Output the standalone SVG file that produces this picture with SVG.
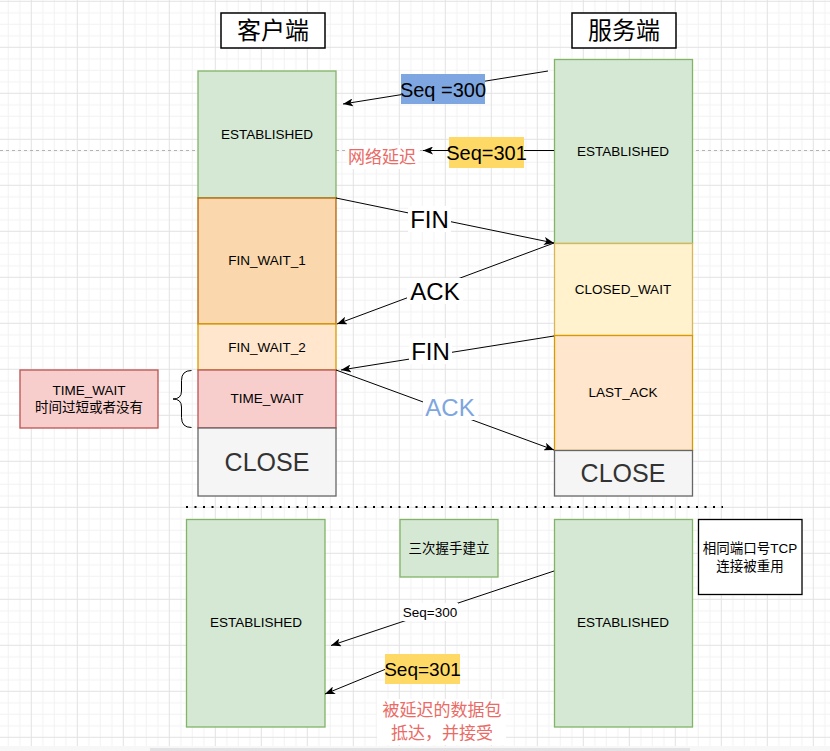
<svg xmlns="http://www.w3.org/2000/svg" width="830" height="751" viewBox="0 0 830 751">
<style>
.t{font-family:"Liberation Sans","Noto Sans CJK SC",sans-serif;text-anchor:middle;dominant-baseline:central;fill:#000}
.s13{font-size:13.5px}
.big{font-size:24px}
.close{font-size:25px;fill:#333}
.edge{fill:none;stroke:#000;stroke-width:1}
.g{fill:#d5e8d4;stroke:#82b366;stroke-width:1.3}
.o1{fill:#fad7ac;stroke:#b46504;stroke-width:1.3}
.o2{fill:#ffe6cc;stroke:#d79b00;stroke-width:1.3}
.r{fill:#f8cecc;stroke:#b85450;stroke-width:1.3}
.gr{fill:#f5f5f5;stroke:#666;stroke-width:1.3}
.y{fill:#fff2cc;stroke:#d6b656;stroke-width:1.3}
.red{fill:#ea6b66}
</style>
<defs>
<pattern id="grid" patternUnits="userSpaceOnUse" x="30.8" y="0.8" width="46" height="46">
<path d="M12 0V46M23.5 0V46M35 0V46M0 12H46M0 23.5H46M0 35H46" stroke="#f2f2f2" stroke-width="1" fill="none"/>
<path d="M0.5 0V46M0 0.5H46" stroke="#e2e2e2" stroke-width="1" fill="none"/>
</pattern>
<marker id="arr" viewBox="0 0 10 8" refX="10" refY="4" markerWidth="10" markerHeight="8" markerUnits="userSpaceOnUse" orient="auto">
<path d="M0,0 L10,4 L0,8 L2.5,4 Z" fill="#000"/>
</marker>
</defs>
<rect width="830" height="751" fill="#fff"/>
<rect width="830" height="751" fill="url(#grid)"/>
<line x1="0" y1="150.5" x2="830" y2="150.5" stroke="#b3b3b3" stroke-dasharray="3 3"/>
<rect x="0" y="746" width="830" height="5" fill="#f7f7f8"/>
<rect x="150" y="748" width="540" height="3" fill="#e2e2e4"/>

<g id="title-client"><rect x="221" y="13" width="104" height="35" fill="#fff" stroke="#000" stroke-width="1.5"/><text class="t" x="273" y="30.5" font-size="24">客户端</text></g>
<g id="title-server"><rect x="572" y="13" width="104" height="35" fill="#fff" stroke="#000" stroke-width="1.5"/><text class="t" x="624" y="30.5" font-size="24">服务端</text></g>

<g id="c-established"><rect class="g" x="198" y="71" width="138" height="127"/><text class="t s13" x="267" y="134">ESTABLISHED</text></g>
<g id="c-finwait1"><rect class="o1" x="198" y="198" width="138" height="126"/><text class="t s13" x="267" y="260">FIN_WAIT_1</text></g>
<g id="c-finwait2"><rect class="o2" x="198" y="324" width="138" height="46"/><text class="t s13" x="267" y="347">FIN_WAIT_2</text></g>
<g id="c-timewait"><rect class="r" x="198" y="370" width="138" height="58"/><text class="t s13" x="267" y="398">TIME_WAIT</text></g>
<g id="c-close"><rect class="gr" x="198" y="428" width="138" height="68"/><text class="t close" x="267" y="462">CLOSE</text></g>

<g id="s-established"><rect class="g" x="554.5" y="59.5" width="138" height="184"/><text class="t s13" x="623" y="151">ESTABLISHED</text></g>
<g id="s-closedwait"><rect class="y" x="554.5" y="243.5" width="138" height="92"/><text class="t s13" x="623" y="289">CLOSED_WAIT</text></g>
<g id="s-lastack"><rect class="o2" x="554.5" y="335.5" width="138" height="115"/><text class="t s13" x="623" y="392">LAST_ACK</text></g>
<g id="s-close"><rect class="gr" x="554.5" y="450.5" width="138" height="45.5"/><text class="t close" x="623" y="473">CLOSE</text></g>

<g id="note-timewait"><rect class="r" x="20" y="370" width="138" height="58"/><text class="t s13" x="89" y="390">TIME_WAIT</text><text class="t s13" x="89" y="407">时间过短或者没有</text></g>
<g id="brace"><path d="M191.5,370.5 Q181.5,370.5 181.5,380.5 L181.5,391 Q181.5,399 173,399 Q181.5,399 181.5,407 L181.5,417.5 Q181.5,427.5 191.5,427.5" fill="none" stroke="#000" stroke-width="1"/></g>

<line x1="186" y1="507" x2="723" y2="507" stroke="#000" stroke-width="2" stroke-dasharray="2 6.5"/>

<g id="b-client"><rect class="g" x="186.5" y="519.5" width="138.5" height="207.5"/><text class="t s13" x="256" y="622">ESTABLISHED</text></g>
<g id="b-handshake"><rect class="g" x="400" y="519.5" width="98" height="57.5"/><text class="t s13" x="449" y="548">三次握手建立</text></g>
<g id="b-server"><rect class="g" x="554.5" y="519.5" width="138" height="207.5"/><text class="t s13" x="623" y="622">ESTABLISHED</text></g>
<g id="b-note"><rect x="698.5" y="519.5" width="103.5" height="75" fill="#fff" stroke="#000" stroke-width="1.3"/><text class="t s13" x="750" y="548">相同端口号TCP</text><text class="t s13" x="750" y="566">连接被重用</text></g>

<g id="connectors">
<line class="edge" x1="548" y1="71" x2="343" y2="104" marker-end="url(#arr)"/>
<rect x="401" y="74" width="84" height="30" fill="#7ea6e0"/>
<text class="t" x="443" y="89.5" font-size="20">Seq =300</text>

<line class="edge" x1="554" y1="150.5" x2="423" y2="150.5" marker-end="url(#arr)"/>
<rect x="449" y="137" width="75" height="31" fill="#ffd966"/>
<text class="t" x="486.5" y="153" font-size="20">Seq=301</text>
<rect x="347" y="145" width="71" height="24" fill="#fff"/>
<text class="t red" x="382" y="157" font-size="17">网络延迟</text>

<line class="edge" x1="336" y1="198" x2="554" y2="243" marker-end="url(#arr)"/>
<rect x="408" y="206" width="43" height="26" fill="#fff"/>
<text class="t big" x="429.5" y="219">FIN</text>

<line class="edge" x1="554" y1="243" x2="337" y2="324" marker-end="url(#arr)"/>
<rect x="407" y="278" width="56" height="26" fill="#fff"/>
<text class="t big" x="435" y="291">ACK</text>

<line class="edge" x1="554" y1="336" x2="341" y2="370" marker-end="url(#arr)"/>
<rect x="409" y="338" width="43" height="26" fill="#fff"/>
<text class="t big" x="430.5" y="351">FIN</text>

<line class="edge" x1="336" y1="370" x2="554" y2="450" marker-end="url(#arr)"/>
<rect x="423" y="394" width="55" height="26" fill="#fff"/>
<text class="t big" x="450" y="407" style="fill:#7ea6e0">ACK</text>

<line class="edge" x1="554" y1="571" x2="331" y2="645.5" marker-end="url(#arr)"/>
<rect x="402" y="603" width="56" height="18" fill="#fff"/>
<text class="t s13" x="430" y="612">Seq=300</text>

<line class="edge" x1="386" y1="669" x2="325" y2="694" marker-end="url(#arr)"/>
<rect x="385" y="654" width="75" height="30" fill="#ffd966"/>
<text class="t" x="422.5" y="669.5" font-size="19">Seq=301</text>

<rect x="377" y="699" width="129" height="46" fill="#fff"/>
<text class="t red" x="442" y="710" font-size="17">被延迟的数据包</text>
<text class="t red" x="442" y="733" font-size="17">抵达，并接受</text>
</g>
</svg>
